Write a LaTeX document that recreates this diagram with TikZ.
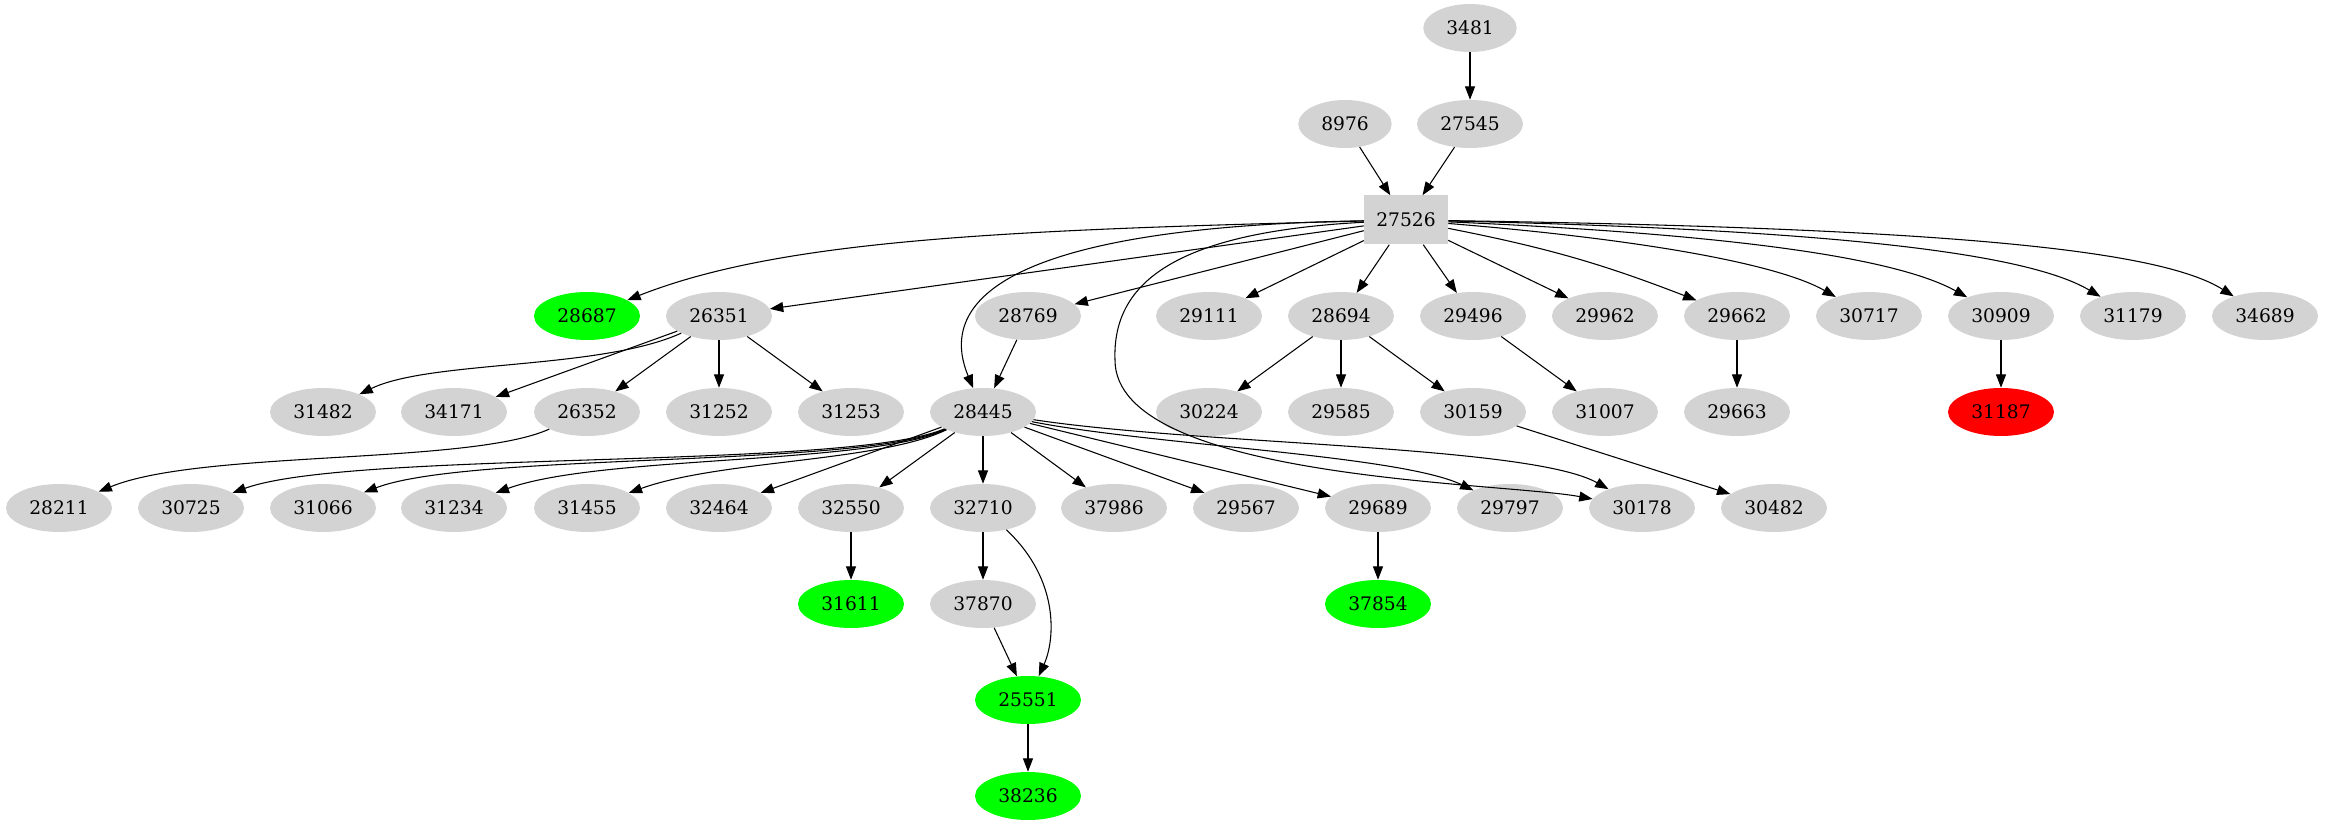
\documentclass[tikz,border=0pt]{standalone}
\usepackage{fontspec}
\setmainfont{DejaVu Serif}
\definecolor{idgray}{RGB}{211,211,211}
\definecolor{idgreen}{RGB}{0,255,0}
\definecolor{idred}{RGB}{255,0,0}
\usetikzlibrary{arrows.meta,shapes.geometric}

\tikzset{
  pkg/.style={ellipse, fill=idgray, draw=none, minimum width=79.5pt, minimum height=36pt, inner sep=0pt, font=\fontsize{14}{16}\selectfont},
  pkgshort/.style={pkg, minimum width=70pt},
  pkgok/.style={pkg, fill=idgreen},
  pkgbad/.style={pkg, fill=idred},
  pkgroot/.style={rectangle, fill=idgray, draw=none, minimum width=63pt, minimum height=36.75pt, inner sep=0pt, font=\fontsize{14}{16}\selectfont},
  dep/.style={-{Triangle[length=10pt,width=7.5pt]}, line width=0.8pt},
}

\begin{document}
\begin{tikzpicture}[x=0.75pt, y=-0.75pt]
  \useasboundingbox (0,0) rectangle (2325,827);

  % Upper part
  \node[pkgshort] (n3481) at (1470,28) {3481};
  \node[pkgshort] (n8976) at (1345,124) {8976};
  \node[pkg] (n27545) at (1470,124) {27545};
  \node[pkgroot] (n27526) at (1406,220) {27526};

  % Row 3
  \node[pkgok] (n28687) at (587,316) {28687};
  \node[pkg] (n26351) at (719,316) {26351};
  \node[pkg] (n28769) at (1028,316) {28769};
  \node[pkg] (n29111) at (1209,316) {29111};
  \node[pkg] (n28694) at (1341,316) {28694};
  \node[pkg] (n29496) at (1473,316) {29496};
  \node[pkg] (n29962) at (1605,316) {29962};
  \node[pkg] (n29662) at (1737,316) {29662};
  \node[pkg] (n30717) at (1869,316) {30717};
  \node[pkg] (n30909) at (2001,316) {30909};
  \node[pkg] (n31179) at (2133,316) {31179};
  \node[pkg] (n34689) at (2265,316) {34689};

  % Row 4
  \node[pkg] (n31482) at (323,412) {31482};
  \node[pkg] (n34171) at (454,412) {34171};
  \node[pkg] (n26352) at (587,412) {26352};
  \node[pkg] (n31252) at (719,412) {31252};
  \node[pkg] (n31253) at (851,412) {31253};
  \node[pkg] (n28445) at (983,412) {28445};
  \node[pkg] (n30224) at (1209,412) {30224};
  \node[pkg] (n29585) at (1341,412) {29585};
  \node[pkg] (n30159) at (1473,412) {30159};
  \node[pkg] (n31007) at (1605,412) {31007};
  \node[pkg] (n29663) at (1737,412) {29663};
  \node[pkgbad] (n31187) at (2001,412) {31187};

  % Row 5
  \node[pkg] (n28211) at (59,508) {28211};
  \node[pkg] (n30725) at (191,508) {30725};
  \node[pkg] (n31066) at (323,508) {31066};
  \node[pkg] (n31234) at (454,508) {31234};
  \node[pkg] (n31455) at (587,508) {31455};
  \node[pkg] (n32464) at (719,508) {32464};
  \node[pkg] (n32550) at (851,508) {32550};
  \node[pkg] (n32710) at (983,508) {32710};
  \node[pkg] (n37986) at (1114,508) {37986};
  \node[pkg] (n29567) at (1246,508) {29567};
  \node[pkg] (n29689) at (1378,508) {29689};
  \node[pkg] (n29797) at (1510,508) {29797};
  \node[pkg] (n30178) at (1642,508) {30178};
  \node[pkg] (n30482) at (1774,508) {30482};

  % Lower part
  \node[pkgok] (n31611) at (851,604) {31611};
  \node[pkg] (n37870) at (983,604) {37870};
  \node[pkgok] (n37854) at (1378,604) {37854};
  \node[pkgok] (n25551) at (1028,700) {25551};
  \node[pkgok] (n38236) at (1028,796) {38236};

  % Edges into 27526
  \draw[dep] (n3481) -- (n27545);
  \draw[dep] (n8976) -- (n27526);
  \draw[dep] (n27545) -- (n27526);

  % Edges out of 27526
  \draw[dep] (n27526) .. controls (1000,230) and (780,240) .. (n28687);
  \draw[dep] (n27526) -- (n26351);
  \draw[dep] (n27526) .. controls (960,228) and (945,320) .. (n28445);
  \draw[dep] (n27526) -- (n28769);
  \draw[dep] (n27526) .. controls (1180,232) and (1112,280) .. (1115,360)
                      .. controls (1115,480) and (1500,482) .. (n30178);
  \draw[dep] (n27526) -- (n29111);
  \draw[dep] (n27526) -- (n28694);
  \draw[dep] (n27526) -- (n29496);
  \draw[dep] (n27526) -- (n29962);
  \draw[dep] (n27526) to[bend left=5] (n29662);
  \draw[dep] (n27526) .. controls (1650,240) and (1780,265) .. (n30717);
  \draw[dep] (n27526) .. controls (1750,235) and (1900,260) .. (n30909);
  \draw[dep] (n27526) .. controls (1850,230) and (2030,255) .. (n31179);
  \draw[dep] (n27526) .. controls (1950,228) and (2160,250) .. (n34689);

  % Row 3 to row 4
  \draw[dep] (n26351) .. controls (600,370) and (430,360) .. (n31482);
  \draw[dep] (n26351) -- (n34171);
  \draw[dep] (n26351) -- (n26352);
  \draw[dep] (n26351) -- (n31252);
  \draw[dep] (n26351) -- (n31253);
  \draw[dep] (n28769) -- (n28445);
  \draw[dep] (n28694) -- (n30224);
  \draw[dep] (n28694) -- (n29585);
  \draw[dep] (n28694) -- (n30159);
  \draw[dep] (n29496) -- (n31007);
  \draw[dep] (n29662) -- (n29663);
  \draw[dep] (n30909) -- (n31187);

  % Row 4 to row 5
  \draw[dep] (n26352) .. controls (470,465) and (200,450) .. (n28211);
  \draw[dep] (n28445) .. controls (850,470) and (350,450) .. (n30725);
  \draw[dep] (n28445) .. controls (860,468) and (470,452) .. (n31066);
  \draw[dep] (n28445) .. controls (870,465) and (600,455) .. (n31234);
  \draw[dep] (n28445) .. controls (880,462) and (720,460) .. (n31455);
  \draw[dep] (n28445) -- (n32464);
  \draw[dep] (n28445) -- (n32550);
  \draw[dep] (n28445) -- (n32710);
  \draw[dep] (n28445) -- (n37986);
  \draw[dep] (n28445) -- (n29567);
  \draw[dep] (n28445) -- (n29689);
  \draw[dep] (n28445) .. controls (1150,445) and (1400,455) .. (n29797);
  \draw[dep] (n28445) .. controls (1200,445) and (1530,445) .. (n30178);
  \draw[dep] (n30159) -- (n30482);

  % Lower edges
  \draw[dep] (n32550) -- (n31611);
  \draw[dep] (n32710) -- (n37870);
  \draw[dep] (n32710) .. controls (1060,580) and (1055,640) .. (n25551);
  \draw[dep] (n29689) -- (n37854);
  \draw[dep] (n37870) -- (n25551);
  \draw[dep] (n25551) -- (n38236);
\end{tikzpicture}
\end{document}
